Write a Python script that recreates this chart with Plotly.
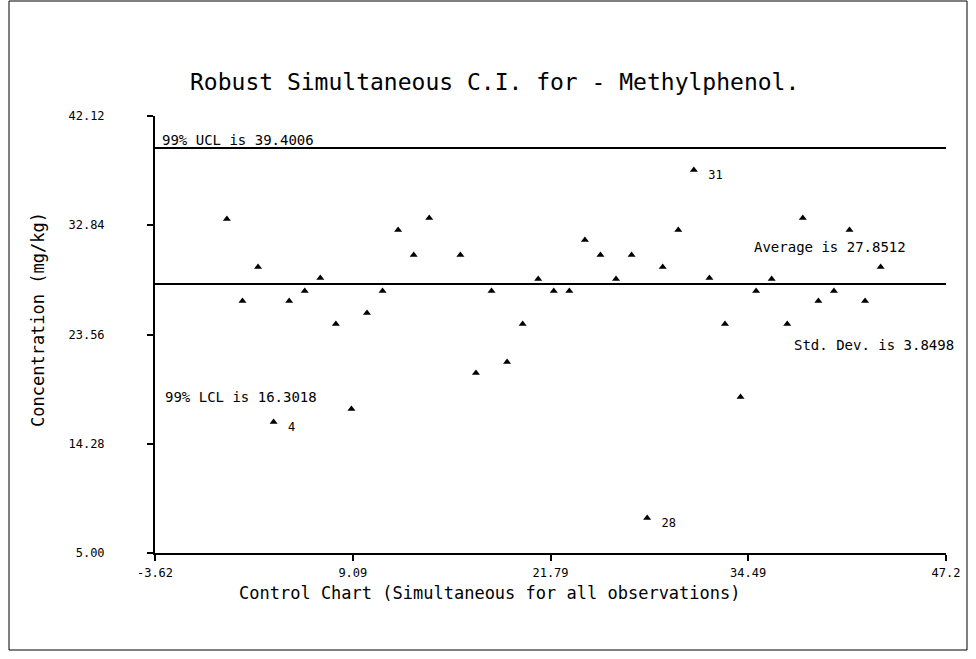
import plotly.graph_objects as go

# ---- data ----
obs = [1, 2, 3, 4, 5, 6, 7, 8, 9, 10, 11, 12, 13, 14, 16, 17, 18, 19, 20, 21, 22,
       23, 24, 25, 26, 27, 28, 29, 30, 31, 32, 33, 34, 35, 36, 37, 38, 39, 40, 41, 42, 43]
values = [33.37, 26.40, 29.29, 16.13, 26.40, 27.25, 28.36, 24.45, 17.23, 25.39, 27.25,
          32.44, 30.31, 33.45, 30.31, 20.29, 27.25, 21.22, 24.45, 28.27, 27.25,
          27.25, 31.59, 30.31, 28.27, 30.31, 7.97, 29.29, 32.44, 37.53, 28.36, 24.45,
          18.25, 27.25, 28.27, 24.45, 33.45, 26.40, 27.25, 32.44, 26.40, 29.29]
point_labels = {4: "4", 28: "28", 31: "31"}

average = 27.8512
ucl = 39.4006

x_ticks = [-3.62, 9.09, 21.79, 34.49, 47.20]
x_tick_text = ["-3.62", "9.09", "21.79", "34.49", "47.2"]
y_ticks = [5.00, 14.28, 23.56, 32.84, 42.12]
y_tick_text = ["5.00", "14.28", "23.56", "32.84", "42.12"]

title_text = "Robust Simultaneous C.I. for - Methylphenol."
x_title = "Control Chart (Simultaneous for all observations)"
y_title = "Concentration (mg/kg)"

FONT = "DejaVu Sans Mono"
W, H = 976, 659
L, R, T, B = 155, 30, 116, 106

def px(xp):
    return (xp - L) / (W - L - R)

def py(yp):
    return (H - B - yp) / (H - T - B)

fig = go.Figure()

fig.add_trace(go.Scatter(
    x=obs, y=values, mode="markers",
    marker=dict(symbol="triangle-up", size=7, color="black"),
    showlegend=False, cliponaxis=False))

lab_x = [o for o in obs if o in point_labels]
lab_y = [values[obs.index(o)] for o in lab_x]
fig.add_trace(go.Scatter(
    x=lab_x, y=lab_y, mode="text",
    text=["  " + point_labels[o] for o in lab_x],
    textposition="bottom right",
    textfont=dict(family=FONT, size=12, color="black"),
    showlegend=False))

# reference lines
for val in (ucl, average):
    fig.add_shape(type="line", xref="x", yref="y", x0=x_ticks[0], x1=x_ticks[-1],
                  y0=val, y1=val, line=dict(color="black", width=2))

# outer frame
fig.add_shape(type="rect", xref="paper", yref="paper",
              x0=px(9), x1=px(967), y0=py(650), y1=py(1),
              line=dict(color="black", width=1))

ann_font = dict(family=FONT, size=14, color="black")
fig.add_annotation(text=f"99% UCL is {ucl:.4f}", xref="x", yref="y",
                   x=x_ticks[0] + 0.3, y=ucl, xanchor="left", yanchor="bottom",
                   showarrow=False, font=ann_font, yshift=-2)
fig.add_annotation(text=f"Average is {average:.4f}", xref="paper", yref="paper",
                   x=px(752), y=py(247), xanchor="left", yanchor="middle",
                   showarrow=False, font=ann_font)
fig.add_annotation(text="Std. Dev. is 3.8498", xref="paper", yref="paper",
                   x=px(792), y=py(345), xanchor="left", yanchor="middle",
                   showarrow=False, font=ann_font)
fig.add_annotation(text="99% LCL is 16.3018", xref="paper", yref="paper",
                   x=px(163), y=py(397), xanchor="left", yanchor="middle",
                   showarrow=False, font=ann_font)

# titles
fig.add_annotation(text=title_text, xref="paper", yref="paper",
                   x=px(494), y=py(82), xanchor="center", yanchor="middle",
                   showarrow=False, font=dict(family=FONT, size=23, color="black"))
fig.add_annotation(text=x_title, xref="paper", yref="paper",
                   x=px(490), y=py(593), xanchor="center", yanchor="middle",
                   showarrow=False, font=dict(family=FONT, size=17, color="black"))
fig.add_annotation(text=y_title, xref="paper", yref="paper",
                   x=px(38), y=py(320), xanchor="center", yanchor="middle",
                   textangle=-90, showarrow=False,
                   font=dict(family=FONT, size=17, color="black"))

fig.update_xaxes(range=[x_ticks[0], x_ticks[-1]], tickvals=x_ticks, ticktext=x_tick_text,
                 showgrid=False, zeroline=False, showline=True, linecolor="black",
                 linewidth=2, ticks="outside", ticklen=6, tickwidth=2, tickcolor="black",
                 tickfont=dict(family=FONT, size=12, color="black"), ticklabelstandoff=2)
fig.update_yaxes(range=[y_ticks[0], y_ticks[-1]], tickvals=y_ticks, ticktext=y_tick_text,
                 showgrid=False, zeroline=False, showline=True, linecolor="black",
                 linewidth=2, ticks="outside", ticklen=6, tickwidth=2, tickcolor="black",
                 tickfont=dict(family=FONT, size=12, color="black"), ticklabelstandoff=40)

fig.update_layout(width=W, height=H, margin=dict(l=L, r=R, t=T, b=B),
                  paper_bgcolor="white", plot_bgcolor="white", showlegend=False)

fig.write_html("out.html")
